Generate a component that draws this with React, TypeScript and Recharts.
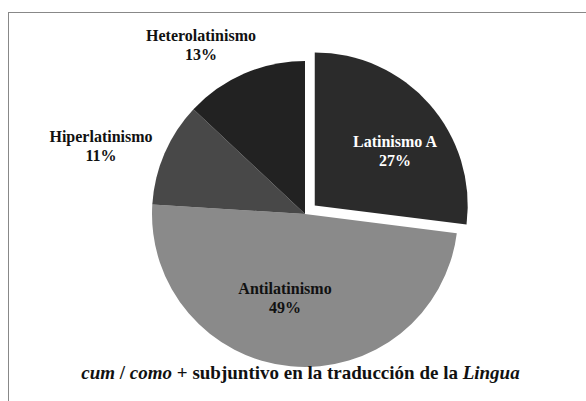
import { PieChart, Pie, Cell } from 'recharts';

const categories = ['Latinismo A', 'Antilatinismo', 'Hiperlatinismo', 'Heterolatinismo'];
const shares = [27, 49, 11, 13];
const colors = ['#2b2b2b', '#8a8a8a', '#484848', '#222222'];

const data = categories.map((name, i) => ({ name, value: shares[i] }));

const W = 586;
const H = 401;
const CX = 300;
const CY = 209;
const R = 153;
const EXPLODE = 13;

// label centres, relative to pie centre
const labelPos: Record<string, { dx: number; dy: number; color: string }> = {
  'Latinismo A': { dx: 95, dy: -58, color: '#ffffff' },
  Antilatinismo: { dx: -15, dy: 89, color: '#111111' },
  Hiperlatinismo: { dx: -199, dy: -63, color: '#111111' },
  Heterolatinismo: { dx: -99, dy: -164, color: '#111111' },
};

const total = shares.reduce((a, b) => a + b, 0);
// first slice starts at 12 o'clock, clockwise
const midDeg = 90 - (shares[0] / total) * 360 / 2;
const offX = EXPLODE * Math.cos((midDeg * Math.PI) / 180);
const offY = -EXPLODE * Math.sin((midDeg * Math.PI) / 180);

const font = '"Liberation Serif", "Times New Roman", serif';

function renderLabel(props: any) {
  const { index } = props;
  const name = categories[index];
  const p = labelPos[name];
  const x = CX + p.dx;
  const y = CY + p.dy;
  const pct = Math.round((shares[index] / total) * 100);
  return (
    <text
      key={name}
      x={x}
      y={y}
      textAnchor="middle"
      fill={p.color}
      fontFamily={font}
      fontWeight="bold"
      fontSize={16}
    >
      <tspan x={x} y={y - 4}>{name}</tspan>
      <tspan x={x} y={y + 15}>{pct}%</tspan>
    </text>
  );
}

export default function App() {
  return (
    <div style={{ position: 'absolute', left: 0, top: 0, width: W, height: H, overflow: 'hidden', background: '#fff' }}>
      <div
        style={{
          position: 'absolute',
          left: 8,
          top: 12,
          width: W + 20,
          height: H + 20,
          border: '1px solid #888',
          boxSizing: 'border-box',
        }}
      />
      <div style={{ position: 'absolute', left: 0, top: 0 }}>
        <PieChart width={W} height={H}>
          <Pie
            data={data}
            dataKey="value"
            nameKey="name"
            cx={CX}
            cy={CY}
            outerRadius={R}
            startAngle={90}
            endAngle={-270}
            stroke="none"
            isAnimationActive={false}
            label={renderLabel}
            labelLine={false}
          >
            {data.map((d, i) => (
              <Cell key={d.name} fill={i === 0 ? 'transparent' : colors[i]} />
            ))}
          </Pie>
          <Pie
            data={data}
            dataKey="value"
            nameKey="name"
            cx={CX + offX}
            cy={CY + offY}
            outerRadius={R}
            startAngle={90}
            endAngle={-270}
            stroke="none"
            isAnimationActive={false}
          >
            {data.map((d, i) => (
              <Cell key={d.name} fill={i === 0 ? colors[0] : 'transparent'} />
            ))}
          </Pie>
        </PieChart>
      </div>
      <div
        style={{
          position: 'absolute',
          left: 0,
          width: 601,
          top: 362,
          textAlign: 'center',
          fontFamily: font,
          fontWeight: 'bold',
          fontSize: 19,
          color: '#111',
          whiteSpace: 'nowrap',
        }}
      >
        <i style={{ fontFamily: font }}>cum</i> / <i style={{ fontFamily: font }}>como</i> + subjuntivo en la traducción de la{' '}
        <i style={{ fontFamily: font }}>Lingua</i>
      </div>
    </div>
  );
}
